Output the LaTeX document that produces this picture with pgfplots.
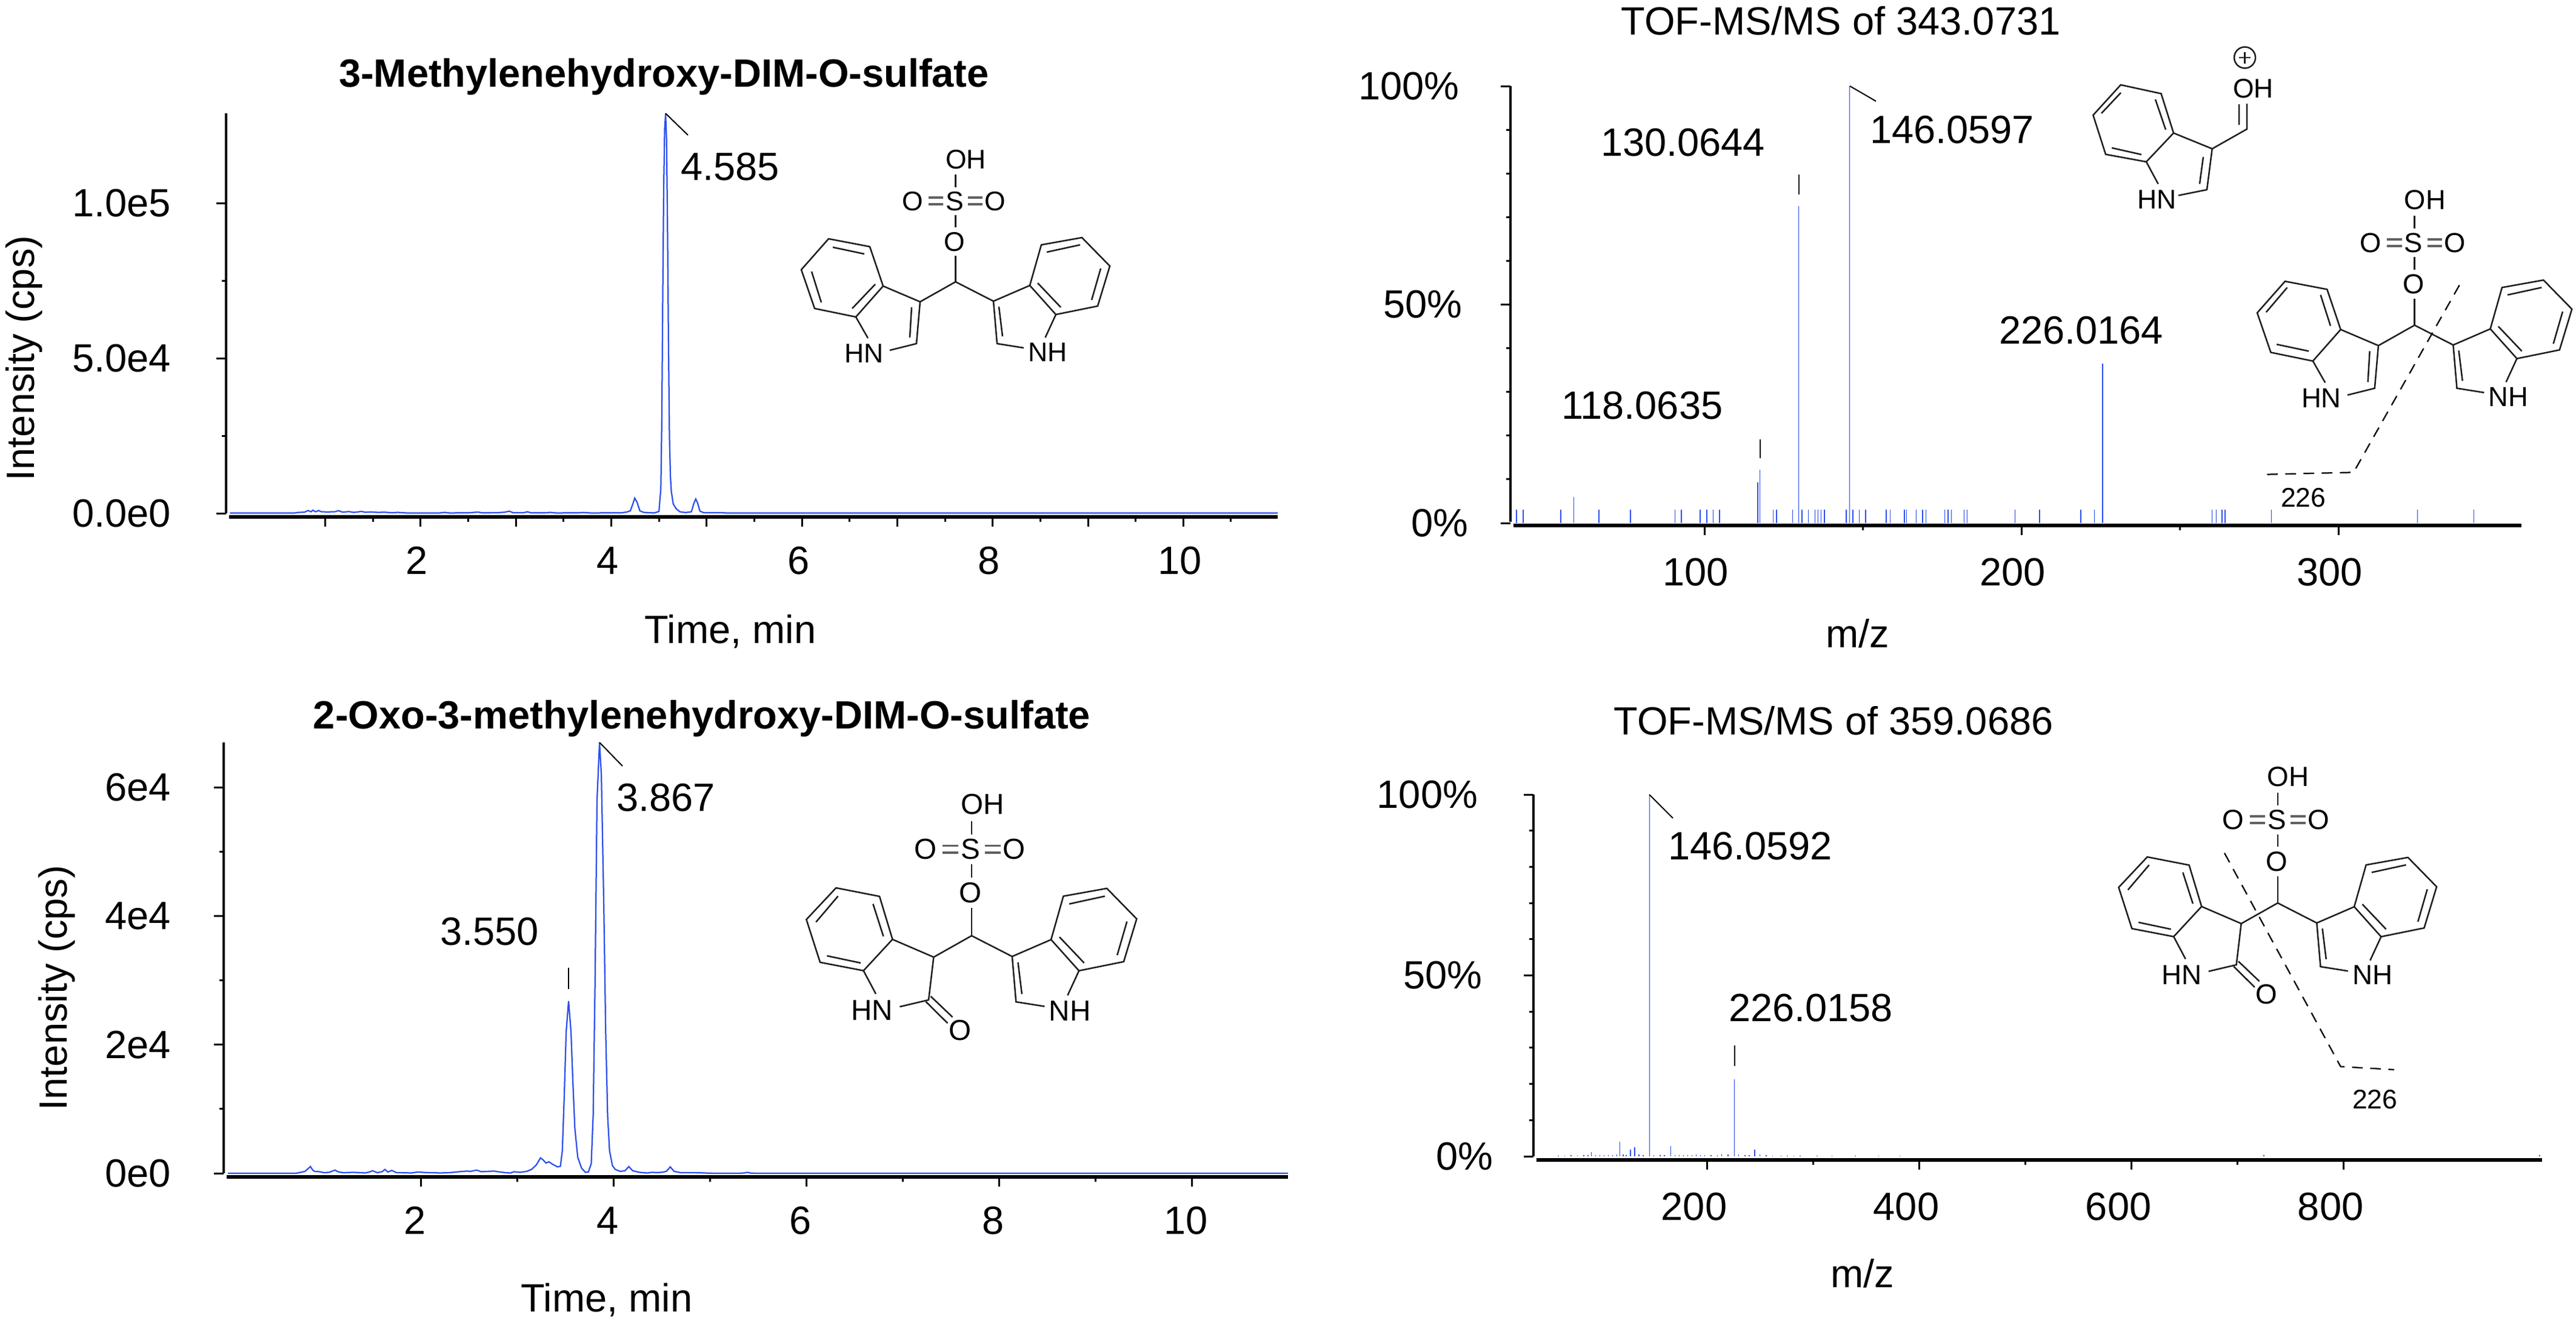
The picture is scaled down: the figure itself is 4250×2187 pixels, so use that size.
\documentclass[border=0pt]{standalone}
\usepackage{fontspec}
\setmainfont{Liberation Sans}
\usepackage{pgfplots}
\pgfplotsset{compat=1.18}
\definecolor{msblue}{RGB}{45,80,235}
\definecolor{bondc}{RGB}{30,30,30}
\newcommand{\lab}{\fontsize{13}{15}\selectfont}
\newcommand{\chem}{\fontsize{8.9}{10}\selectfont}

\pgfplotsset{
  ms/.style={
    scale only axis, anchor=south west,
    axis lines*=left, tick align=outside,
    scaled y ticks=false,
    x axis line style={-,line width=1.1pt,shorten <=1pt},
    y axis line style={-,line width=.8pt,shorten <=1.2pt},
    major tick length=3.2pt, minor tick length=1.5pt,
    tick style={black,line width=.6pt},
    tick label style={font=\lab,inner sep=0pt},
    /pgf/number format/assume math mode=true,
    every axis title shift=0pt,
    title style={font=\lab,inner sep=0pt,anchor=base},
    xlabel style={font=\lab,inner sep=0pt,anchor=base},
    ylabel style={font=\lab,inner sep=0pt,anchor=base},
  },
  stick/.style={ycomb,msblue,line width=.3pt,mark=none},
  trace/.style={msblue,line width=.45pt,mark=none},
}

\tikzset{
  bond/.style={draw=bondc,line width=.5pt},
  dbl/.style={draw=bondc!70,line width=.7pt},
  txt/.style={font=\lab,inner sep=0pt,anchor=base west},
  lead/.style={draw=black,line width=.4pt},
  cut/.style={draw=black,line width=.45pt,dash pattern=on 3.5pt off 2.5pt},
  at0/.style={font=\chem,inner sep=0pt,anchor=base},
}

% sulfate, central carbon and the right indole, local px round the central C
\newcommand{\core}{%
  \node[at0,anchor=base west] at (-17.5,-187) {OH};
  \node[at0] at (-1.5,-118) {S};
  \node[at0] at (-71,-118) {O};
  \node[at0] at (65.5,-118) {O};
  \node[at0] at (-1.5,-51) {O};
  \draw[bond] (0,-177)--(0,-156) (0,-110)--(0,-90) (0,-43)--(0,0);
  \draw[dbl] (-45,-139)--(-20.5,-139) (-45,-128)--(-20.5,-128)
    (20.5,-139)--(44.5,-139) (20.5,-128)--(44.5,-128);
  \draw[bond] (-58.5,33)--(0,0)--(62.5,32);
  \draw[bond] (62.5,32)--(122.5,6)--(165.5,54)--(234.5,40)--(254.5,-26)
    --(208.5,-73)--(141.5,-61)--(122.5,6);
  \draw[bond] (62.5,32)--(68.5,102)--(112.5,109) (165.5,54)--(148,92);
  \draw[bond] (71.5,41)--(77.5,90) (150.5,-49)--(205.5,-61)
    (239.5,-22)--(224.5,30) (135.5,2)--(173.5,42);
  \node[at0,anchor=base west] at (118.5,131) {NH};
}
% left indole ring, outer bonds
\newcommand{\leftring}{%
  \draw[bond] (-58.5,33)--(-119.5,7)--(-164.5,58)--(-232.5,44)--(-254.5,-20)
    --(-209.5,-71)--(-141.5,-58)--(-119.5,7);
  \draw[bond] (-58.5,33)--(-64.5,102)--(-108.5,113) (-164.5,58)--(-144.5,93);
  \draw[bond] (-72.5,42)--(-75.5,92);
  \node[at0,anchor=base east] at (-117.5,133) {HN};
}
\newcommand{\innerA}{%
  \draw[bond] (-150.5,-46)--(-202.5,-57) (-237.5,-17)--(-221.5,34)
    (-132.5,4)--(-170.5,44);
}
\newcommand{\innerB}{%
  \draw[bond] (-152,-49)--(-136,1) (-206,-61)--(-240,-21) (-223,31)--(-171,42);
}
\newcommand{\oxo}{%
  \draw[bond] (-58.5,33)--(-122,5.6)--(-166.7,53.9)--(-233.6,41)
    --(-254.8,-25)--(-209,-73.8)--(-142,-60.7)--(-122,5.6);
  \draw[bond] (-58.5,33)--(-66.3,99)--(-110.8,109.5) (-166.7,53.9)--(-147.7,89.7);
  \draw[bond] (-70.6,101.6)--(-37,134.9) (-63,93.5)--(-29.4,125.5);
  \node[at0] at (-17.8,161.4) {O};
  \node[at0,anchor=base east] at (-120.6,130.8) {HN};
}

\begin{document}
\begin{tikzpicture}[x=0.2pt,y=-0.2pt]
\useasboundingbox (0,0) rectangle (4250,2187);

% --- top left: chromatogram
\begin{axis}[ms, at={(74.6pt,-170.6pt)}, width=347pt, height=133.2pt,
  xmin=-0.04, xmax=10.99, ymin=-1172, ymax=128906,
  xtick={1,...,11}, xticklabels={,2,,4,,6,,8,,10,}, minor x tick num=1,
  ytick={0,50000,100000}, yticklabels={0.0e0,5.0e4,1.0e5}, minor y tick num=1,
  xticklabel style={xshift=-1.2pt,yshift=-6.5pt},
  yticklabel style={xshift=-14.8pt},
  title={\textbf{3-Methylenehydroxy-DIM-O-sulfate}},
  title style={at={([yshift=8.8pt]axis description cs:0.4164,1)}},
  xlabel={Time, min},
  xlabel style={at={([yshift=-41.6pt]axis description cs:0.4795,0)}},
  ylabel={Intensity (cps)},
  ylabel style={at={([xshift=-63.2pt]axis description cs:0,0.3934)}},
]
\addplot[trace] coordinates {
 (0,120) (0.68,120) (0.72,300) (0.78,350) (0.82,900) (0.85,500) (0.87,1000)
 (0.9,500) (0.93,900) (0.96,500) (1.02,450) (1.1,500) (1.14,850) (1.18,400)
 (1.25,550) (1.3,300) (1.38,600) (1.42,350) (1.48,450) (1.55,300) (1.62,350)
 (1.7,200) (1.76,300) (1.85,120) (2.2,120) (2.25,300) (2.3,120) (2.5,150)
 (2.6,400) (2.65,150) (2.8,200) (2.88,350) (2.93,700) (2.97,200) (3.08,200)
 (3.12,500) (3.16,150) (3.3,150) (3.36,300) (3.42,120) (3.65,150) (3.7,280)
 (3.78,120) (4.1,150) (4.16,400) (4.2,800) (4.226,3000) (4.246,4900) (4.27,3600)
 (4.3,800) (4.34,300) (4.45,120) (4.5,600) (4.52,8000) (4.53,30000) (4.54,70000)
 (4.55,105000) (4.56,124000) (4.57,128900) (4.58,120000) (4.59,92000) (4.6,55000)
 (4.61,25000) (4.62,12000) (4.63,7000) (4.65,3000) (4.68,1500) (4.72,500)
 (4.78,250) (4.84,500) (4.866,3200) (4.886,4600) (4.905,3400) (4.93,700)
 (4.97,200) (5.15,220) (5.2,120) (11,120)};
\end{axis}

% --- top right: MS/MS of 343
\begin{axis}[ms, at={(498.4pt,-173.4pt)}, width=333.6pt, height=145pt,
  xmin=38.8, xmax=357.7, ymin=-0.55, ymax=100,
  xtick={100,200,300}, minor x tick num=1,
  ytick={0,50,100}, yticklabels={0\%\kern-2pt,50\%,100\%\kern1pt}, minor y tick num=4,
  xticklabel style={xshift=-2.9pt,yshift=-7.4pt},
  yticklabel style={xshift=-12.5pt},
  title={TOF-MS/MS of 343.0731},
  title style={at={([yshift=17pt]axis description cs:0.3267,1)}},
  xlabel={m/z},
  xlabel style={at={([yshift=-40.2pt]axis description cs:0.3435,0)}},
]
\addplot[stick] coordinates {
 (40.7,3) (42.8,3) (54.7,3) (58.8,6) (66.7,3) (76.6,3) (90.7,3) (92.7,3)
 (98.6,3) (100.7,3) (102.7,3) (104.7,3) (116.8,9.3) (117.5,12.2) (121.7,3)
 (122.7,3) (127.8,3) (129.7,72.5) (130.7,3) (132.8,3) (134.9,3) (135.8,3)
 (136.8,3) (137.8,3) (144.7,3) (145.8,100) (146.8,3) (148.8,3) (150.8,3)
 (157.3,3) (158.6,3) (163.1,3) (163.7,3) (166.8,3) (168.8,3) (169.8,3)
 (175.8,3) (176.8,3) (177.9,3) (181.9,3) (182.8,3) (197.9,3) (205.7,3)
 (218.7,3) (223,3) (225.6,36.5) (260.1,3) (261.4,3) (263.2,3) (264.2,3)
 (278.8,3) (324.9,3) (342.7,3)};
\end{axis}

% --- bottom left: chromatogram
\begin{axis}[ms, at={(73.8pt,-388.4pt)}, width=351.2pt, height=143.4pt,
  xmin=-0.044, xmax=11, ymin=-565, ymax=67012,
  xtick={2,4,...,10}, minor x tick num=1,
  ytick={0,20000,40000,60000}, yticklabels={0e0,2e4,4e4,6e4}, minor y tick num=1,
  xticklabel style={xshift=-1.9pt,yshift=-6.5pt},
  yticklabel style={xshift=-14pt},
  title={\textbf{2-Oxo-3-methylenehydroxy-DIM-O-sulfate}},
  title style={at={([yshift=4.6pt]axis description cs:0.4493,1)}},
  xlabel={Time, min},
  xlabel style={at={([yshift=-44.4pt]axis description cs:0.3599,0)}},
  ylabel={Intensity (cps)},
  ylabel style={at={([xshift=-51.6pt]axis description cs:0,0.4351)}},
]
\addplot[trace] coordinates {
 (0,0) (0.7,0) (0.74,100) (0.8,300) (0.83,700) (0.857,1050) (0.88,500) (0.9,300)
 (0.95,250) (1,100) (1.05,150) (1.11,500) (1.15,200) (1.2,100) (1.3,150) (1.38,100)
 (1.42,50) (1.47,200) (1.5,400) (1.55,100) (1.6,250) (1.63,600) (1.66,200) (1.7,450)
 (1.75,100) (1.85,80) (1.9,50) (1.97,200) (2.05,120) (2.15,80) (2.2,50) (2.3,100)
 (2.4,250) (2.48,350) (2.52,300) (2.58,500) (2.63,250) (2.7,300) (2.76,350) (2.8,250)
 (2.88,100) (2.93,50) (2.97,250) (3.03,150) (3.1,300) (3.15,600) (3.2,1300) (3.243,2400)
 (3.27,2100) (3.3,1600) (3.33,1800) (3.37,1400) (3.42,1000) (3.45,1100) (3.47,3500)
 (3.49,12000) (3.51,22000) (3.535,26800) (3.56,22000) (3.58,14000) (3.6,7000)
 (3.63,2500) (3.67,800) (3.71,150) (3.74,200) (3.77,1500) (3.79,9000) (3.81,30000)
 (3.83,58000) (3.856,67000) (3.875,62000) (3.9,42000) (3.92,22000) (3.94,9000)
 (3.96,3500) (3.99,1200) (4.02,600) (4.07,300) (4.12,400) (4.16,1050) (4.2,400)
 (4.27,150) (4.35,50) (4.4,150) (4.45,120) (4.5,150) (4.55,300) (4.59,1000) (4.63,300)
 (4.7,100) (4.8,100) (4.9,80) (5,20) (5.3,0) (5.36,60) (5.39,150) (5.43,30) (5.5,0) (11,0)};
\end{axis}

% --- bottom right: MS/MS of 359
\begin{axis}[ms, at={(506pt,-382.8pt)}, width=332.8pt, height=120.6pt,
  xmin=36.6, xmax=987.4, ymin=-1, ymax=100,
  xtick={200,400,600,800}, minor x tick num=1,
  ytick={0,50,100}, yticklabels={0\%\kern-3.5pt,50\%,100\%\kern1.5pt}, minor y tick num=4,
  xticklabel style={xshift=-4.2pt,yshift=-7.4pt},
  yticklabel style={xshift=-13.5pt},
  title={TOF-MS/MS of 359.0686},
  title style={at={([yshift=19.7pt]axis description cs:0.2975,1)}},
  xlabel={m/z},
  xlabel style={at={([yshift=-42pt]axis description cs:0.3263,0)}},
]
\addplot[stick] coordinates {
 (60,.2) (66,.2) (72,.3) (78,.2) (84,.3) (88,.3) (91,1.2) (95,.4) (99,.3) (103,.4)
 (107,.3) (111,.4) (115,.5) (118,4.1) (121,.5) (124,.4) (128,1.8) (132,2.5) (136,.5)
 (140,.4) (146,100) (150,.4) (156,.3) (160,.4) (166,2.9) (170,.4) (174,.3) (178,.3)
 (182,.4) (186,.3) (190,.5) (194,.4) (198,.3) (204,.4) (210,.3) (214,.7) (220,.6)
 (226,21.3) (230,.5) (236,.4) (240,.3) (245,1.9) (250,.5) (256,.3) (262,.2) (270,.2)
 (276,.2) (282,.2) (288,.2) (304,.2) (318,.2) (340,.2) (362,.2) (382,.2) (725,.3) (985,.3)};
\end{axis}

% peak labels and their leaders
\node[txt] at (1122,297) {4.585};
\draw[lead] (1098,187)--(1135,223);
\node[txt] at (1016,1338) {3.867};
\draw[lead] (989,1225)--(1027,1264);
\node[txt] at (725,1559) {3.550};
\draw[lead] (938,1597)--(938,1632);
\node[txt] at (2640,257) {130.0644};
\draw[lead] (2968,288)--(2968,321);
\node[txt] at (3084,236) {146.0597};
\draw[lead] (3052,142)--(3095,167);
\node[txt] at (2575,691) {118.0635};
\draw[lead] (2904,725)--(2904,756);
\node[txt] at (3297,567) {226.0164};
\node[txt] at (2751,1418) {146.0592};
\draw[lead] (2721,1311)--(2760,1350);
\node[txt] at (2851,1685) {226.0158};
\draw[lead] (2862,1725)--(2862,1759);

% structures
\begin{scope}[shift={(1576.5,465)}]
  \core \leftring \innerA
\end{scope}
\begin{scope}[shift={(3983.6,536.6)},scale=1.02,transform shape]
  \core \leftring \innerB
\end{scope}
\begin{scope}[shift={(1603,1544)},scale=1.07,transform shape]
  \core \oxo \innerB
\end{scope}
\begin{scope}[shift={(3757.9,1490)},scale=1.03,transform shape]
  \core \oxo \innerB
\end{scope}

% fragment ion, top right
\draw[bond] (3649.7,245.5)--(3586,219.5)--(3541,267)--(3474,254.7)--(3453.3,190)
  --(3498.8,140)--(3565.5,154.5)--(3586,219.5);
\draw[bond] (3649.7,245.5)--(3641,313)--(3594,322.5) (3541,267)--(3560.6,303.5);
\draw[bond] (3635,259)--(3629,303.5) (3556,164)--(3573,214) (3499,153)--(3467,187)
  (3484,244)--(3533,255);
\draw[bond] (3649.7,245.5)--(3707,213)--(3707,171) (3694,206)--(3694,172);
\node[at0,anchor=base west] at (3683,161.5) {OH};
\node[at0,anchor=base west] at (3525,344) {HN};
\draw[bond] (3703.6,95) circle (17.5);
\draw[bond] (3694,95)--(3713,95) (3703.6,85.5)--(3703.6,104.5);

% cleavage lines
\draw[cut] (4057.6,470.5)--(3883,779.4)--(3729,783);
\node[at0,anchor=base west] at (3762,836) {226};
\draw[cut] (3670,1407.6)--(3861.7,1760)--(3950,1765);
\node[at0,anchor=base west] at (3880,1829.5) {226};
\end{tikzpicture}
\end{document}
